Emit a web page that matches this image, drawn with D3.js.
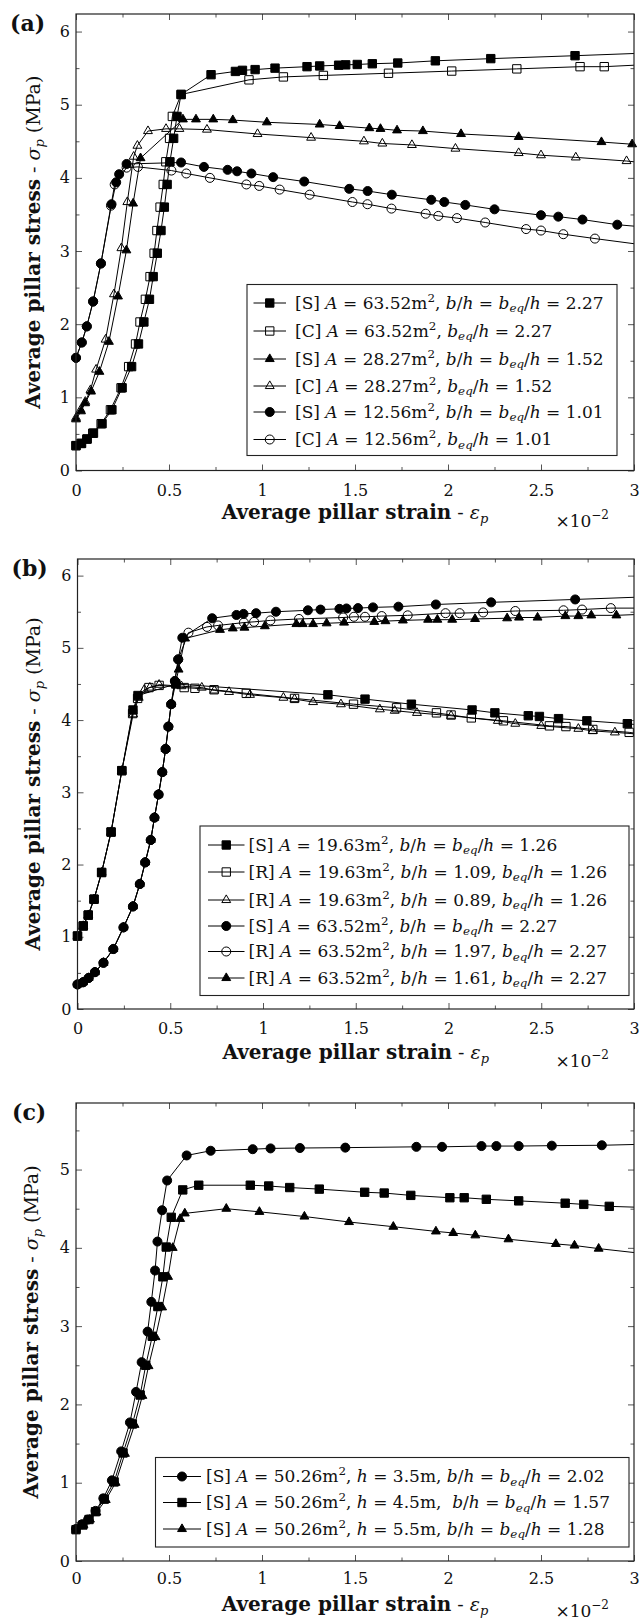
<!DOCTYPE html>
<html>
<head>
<meta charset="utf-8">
<script src="https://cdn.jsdelivr.net/npm/d3@7"></script>
<style>
  html, body { margin: 0; padding: 0; background: #fff; }
  svg { display: block; }
  text { font-family: "DejaVu Serif", serif; white-space: pre; fill: #111; }
</style>
</head>
<body>
<svg id="fig" width="642" height="1620"></svg>
<script>
// ---------- axis ticks ----------
const xMax = 3;
const xTicks = [0, 0.5, 1, 1.5, 2, 2.5, 3];
const xMinor = [0.25, 0.75, 1.25, 1.75, 2.25, 2.75];
const yTicksAB = [0, 1, 2, 3, 4, 5, 6];
const yMinorAB = [0.5, 1.5, 2.5, 3.5, 4.5, 5.5];
const yTicksC = [0, 1, 2, 3, 4, 5];
const yMinorC = [0.5, 1.5, 2.5, 3.5, 4.5, 5.5];
const yMaxA = 6.24, yMaxB = 6.23, yMaxC = 5.85;

// ---------- panel (a): square vs circular pillars ----------
const s63x = [0, 0.03, 0.06, 0.094, 0.14, 0.193, 0.248, 0.299, 0.336, 0.365, 0.395, 0.415, 0.437, 0.457, 0.475, 0.49, 0.505, 0.525, 0.543, 0.565, 0.726, 0.857, 0.895, 0.963, 1.07, 1.242, 1.31, 1.412, 1.45, 1.512, 1.593, 1.73, 1.932, 2.23, 2.683, 3.0];
const s63y = [0.34, 0.37, 0.43, 0.51, 0.64, 0.83, 1.13, 1.42, 1.73, 2.03, 2.34, 2.65, 2.97, 3.28, 3.60, 3.91, 4.22, 4.54, 4.84, 5.14, 5.41, 5.455, 5.47, 5.48, 5.50, 5.52, 5.53, 5.54, 5.545, 5.55, 5.56, 5.57, 5.60, 5.63, 5.67, 5.70];

const c63x = [0, 0.027, 0.058, 0.09, 0.135, 0.185, 0.242, 0.283, 0.32, 0.344, 0.373, 0.398, 0.42, 0.435, 0.452, 0.469, 0.483, 0.503, 0.518, 0.565, 0.93, 1.115, 1.33, 1.68, 2.02, 2.37, 2.71, 2.84, 3.0];
const c63y = [0.34, 0.37, 0.43, 0.51, 0.64, 0.83, 1.13, 1.42, 1.73, 2.03, 2.34, 2.65, 2.97, 3.28, 3.60, 3.91, 4.22, 4.54, 4.84, 5.14, 5.34, 5.38, 5.40, 5.43, 5.46, 5.49, 5.52, 5.52, 5.54];

const s28x = [0, 0.027, 0.049, 0.081, 0.126, 0.177, 0.226, 0.271, 0.307, 0.347, 0.575, 0.645, 0.738, 0.843, 1.026, 1.31, 1.417, 1.577, 1.637, 1.726, 1.865, 2.07, 2.38, 2.825, 2.99];
const s28y = [0.70, 0.81, 0.92, 1.08, 1.35, 1.76, 2.38, 3.01, 3.65, 4.27, 4.80, 4.80, 4.80, 4.79, 4.76, 4.73, 4.71, 4.68, 4.67, 4.65, 4.64, 4.60, 4.56, 4.49, 4.46];

const c28x = [0, 0.025, 0.05, 0.078, 0.108, 0.159, 0.204, 0.244, 0.276, 0.31, 0.33, 0.387, 0.484, 0.556, 0.704, 0.976, 1.264, 1.548, 1.647, 1.806, 2.04, 2.38, 2.5, 2.687, 2.96, 3.0];
const c28y = [0.72, 0.83, 0.94, 1.10, 1.38, 1.79, 2.41, 3.04, 3.67, 4.29, 4.44, 4.64, 4.67, 4.67, 4.66, 4.60, 4.55, 4.50, 4.47, 4.45, 4.40, 4.34, 4.31, 4.28, 4.23, 4.22];

const s12x = [0, 0.031, 0.058, 0.092, 0.134, 0.191, 0.216, 0.232, 0.272, 0.565, 0.688, 0.815, 0.866, 0.943, 1.06, 1.227, 1.469, 1.568, 1.698, 1.91, 1.98, 2.093, 2.25, 2.5, 2.593, 2.723, 2.91, 3.0];
const s12y = [1.54, 1.75, 1.97, 2.31, 2.83, 3.64, 3.94, 4.05, 4.19, 4.21, 4.15, 4.11, 4.09, 4.06, 4.01, 3.95, 3.85, 3.82, 3.77, 3.70, 3.67, 3.63, 3.57, 3.49, 3.47, 3.43, 3.36, 3.34];

const c12x = [0, 0.031, 0.058, 0.092, 0.134, 0.188, 0.208, 0.272, 0.333, 0.513, 0.593, 0.72, 0.916, 0.985, 1.095, 1.256, 1.486, 1.567, 1.696, 1.88, 1.948, 2.048, 2.2, 2.42, 2.5, 2.62, 2.79, 3.0];
const c12y = [1.54, 1.75, 1.97, 2.31, 2.83, 3.62, 3.91, 4.14, 4.15, 4.10, 4.06, 4.00, 3.91, 3.89, 3.84, 3.77, 3.67, 3.64, 3.58, 3.51, 3.48, 3.45, 3.39, 3.30, 3.28, 3.23, 3.17, 3.10];

const legendA = [
  "[S] $A$ = 63.52m^2, $b$/$h$ = $b$_eq/$h$ = 2.27",
  "[C] $A$ = 63.52m^2, $b$_eq/$h$ = 2.27",
  "[S] $A$ = 28.27m^2, $b$/$h$ = $b$_eq/$h$ = 1.52",
  "[C] $A$ = 28.27m^2, $b$_eq/$h$ = 1.52",
  "[S] $A$ = 12.56m^2, $b$/$h$ = $b$_eq/$h$ = 1.01",
  "[C] $A$ = 12.56m^2, $b$_eq/$h$ = 1.01"
];

// ---------- panel (b): square vs rectangular pillars ----------
const s19x = [0, 0.031, 0.058, 0.089, 0.13, 0.181, 0.239, 0.299, 0.326, 0.53, 1.35, 1.55, 1.80, 2.127, 2.25, 2.43, 2.49, 2.593, 2.746, 2.964, 3.0];
const s19y = [1.01, 1.15, 1.30, 1.52, 1.89, 2.45, 3.30, 4.14, 4.34, 4.50, 4.35, 4.29, 4.22, 4.14, 4.10, 4.06, 4.05, 4.02, 3.99, 3.95, 3.94];

const r19ax = [0, 0.031, 0.058, 0.089, 0.13, 0.181, 0.239, 0.297, 0.324, 0.385, 0.44, 0.575, 0.633, 0.736, 0.91, 1.17, 1.488, 1.72, 1.935, 2.014, 2.123, 2.296, 2.544, 2.633, 2.778, 2.974, 3.0];
const r19ay = [1.01, 1.15, 1.30, 1.52, 1.89, 2.45, 3.30, 4.09, 4.30, 4.45, 4.48, 4.45, 4.44, 4.42, 4.37, 4.30, 4.22, 4.17, 4.10, 4.07, 4.03, 3.99, 3.92, 3.91, 3.87, 3.83, 3.82];

const r19bx = [0, 0.031, 0.058, 0.089, 0.13, 0.181, 0.239, 0.30, 0.33, 0.36, 0.39, 0.44, 0.56, 0.67, 0.738, 0.817, 0.93, 1.11, 1.17, 1.27, 1.42, 1.63, 1.71, 1.83, 2.014, 2.266, 2.36, 2.5, 2.70, 2.778, 2.897, 3.0];
const r19by = [1.01, 1.15, 1.30, 1.52, 1.89, 2.45, 3.30, 4.08, 4.31, 4.42, 4.45, 4.49, 4.47, 4.45, 4.41, 4.39, 4.35, 4.31, 4.29, 4.25, 4.22, 4.15, 4.13, 4.10, 4.06, 3.99, 3.95, 3.92, 3.88, 3.85, 3.83, 3.81];

const r63ax = [0, 0.03, 0.06, 0.094, 0.14, 0.193, 0.248, 0.299, 0.336, 0.365, 0.395, 0.415, 0.437, 0.457, 0.475, 0.49, 0.505, 0.525, 0.543, 0.598, 0.698, 0.758, 0.897, 0.952, 1.04, 1.194, 1.432, 1.49, 1.55, 1.64, 1.78, 1.984, 2.06, 2.187, 2.36, 2.62, 2.72, 2.875, 3.0];
const r63ay = [0.34, 0.37, 0.43, 0.51, 0.64, 0.83, 1.13, 1.42, 1.73, 2.03, 2.34, 2.65, 2.97, 3.28, 3.60, 3.91, 4.22, 4.54, 4.84, 5.21, 5.29, 5.31, 5.35, 5.36, 5.38, 5.40, 5.42, 5.43, 5.43, 5.44, 5.45, 5.48, 5.48, 5.49, 5.51, 5.52, 5.53, 5.55, 5.55];

const r63bx = [0, 0.03, 0.06, 0.094, 0.14, 0.193, 0.248, 0.299, 0.336, 0.365, 0.395, 0.415, 0.437, 0.457, 0.475, 0.49, 0.505, 0.545, 0.58, 0.768, 0.837, 0.9, 1.01, 1.18, 1.214, 1.27, 1.343, 1.437, 1.6, 1.66, 1.754, 1.89, 1.94, 2.02, 2.143, 2.316, 2.38, 2.48, 2.63, 2.70, 2.77, 2.905, 3.0];
const r63by = [0.34, 0.37, 0.43, 0.51, 0.64, 0.83, 1.13, 1.42, 1.73, 2.03, 2.34, 2.65, 2.97, 3.28, 3.60, 3.91, 4.22, 4.70, 5.13, 5.25, 5.27, 5.28, 5.30, 5.33, 5.33, 5.33, 5.34, 5.35, 5.36, 5.37, 5.38, 5.39, 5.39, 5.39, 5.40, 5.41, 5.42, 5.42, 5.44, 5.44, 5.45, 5.45, 5.46];

const legendB = [
  "[S] $A$ = 19.63m^2, $b$/$h$ = $b$_eq/$h$ = 1.26",
  "[R] $A$ = 19.63m^2, $b$/$h$ = 1.09, $b$_eq/$h$ = 1.26",
  "[R] $A$ = 19.63m^2, $b$/$h$ = 0.89, $b$_eq/$h$ = 1.26",
  "[S] $A$ = 63.52m^2, $b$/$h$ = $b$_eq/$h$ = 2.27",
  "[R] $A$ = 63.52m^2, $b$/$h$ = 1.97, $b$_eq/$h$ = 2.27",
  "[R] $A$ = 63.52m^2, $b$/$h$ = 1.61, $b$_eq/$h$ = 2.27"
];

// ---------- panel (c): effect of pillar height ----------
const h35x = [0, 0.033, 0.065, 0.105, 0.147, 0.193, 0.243, 0.29, 0.323, 0.353, 0.385, 0.405, 0.425, 0.438, 0.463, 0.49, 0.595, 0.724, 0.95, 1.046, 1.204, 1.448, 1.83, 1.968, 2.18, 2.26, 2.38, 2.558, 2.827, 3.0];
const h35y = [0.41, 0.47, 0.53, 0.64, 0.80, 1.03, 1.40, 1.77, 2.16, 2.54, 2.93, 3.31, 3.71, 4.08, 4.48, 4.86, 5.18, 5.24, 5.26, 5.27, 5.275, 5.28, 5.29, 5.29, 5.30, 5.30, 5.30, 5.305, 5.31, 5.32];

const h45x = [0, 0.037, 0.07, 0.105, 0.152, 0.205, 0.253, 0.303, 0.345, 0.375, 0.41, 0.44, 0.467, 0.485, 0.512, 0.574, 0.66, 0.937, 1.036, 1.149, 1.308, 1.552, 1.657, 1.80, 2.01, 2.087, 2.206, 2.38, 2.63, 2.73, 2.867, 3.0];
const h45y = [0.40, 0.46, 0.53, 0.63, 0.79, 1.01, 1.38, 1.75, 2.12, 2.50, 2.87, 3.25, 3.63, 4.01, 4.39, 4.74, 4.80, 4.80, 4.79, 4.77, 4.75, 4.71, 4.70, 4.67, 4.64, 4.64, 4.62, 4.60, 4.57, 4.555, 4.53, 4.52];

const h55x = [0, 0.04, 0.075, 0.11, 0.16, 0.213, 0.263, 0.315, 0.357, 0.39, 0.428, 0.463, 0.495, 0.52, 0.56, 0.585, 0.808, 0.986, 1.228, 1.468, 1.706, 1.935, 2.028, 2.147, 2.325, 2.58, 2.68, 2.81, 3.0];
const h55y = [0.40, 0.46, 0.53, 0.62, 0.78, 1.00, 1.37, 1.74, 2.11, 2.49, 2.86, 3.24, 3.63, 4.00, 4.37, 4.44, 4.50, 4.46, 4.40, 4.33, 4.27, 4.21, 4.19, 4.16, 4.11, 4.05, 4.03, 3.99, 3.94];

const legendC = [
  "[S] $A$ = 50.26m^2, $h$ = 3.5m, $b$/$h$ = $b$_eq/$h$ = 2.02",
  "[S] $A$ = 50.26m^2, $h$ = 4.5m,  $b$/$h$ = $b$_eq/$h$ = 1.57",
  "[S] $A$ = 50.26m^2, $h$ = 5.5m, $b$/$h$ = $b$_eq/$h$ = 1.28"
];

// ---------- drawing ----------
const svg = d3.select("#fig");
const SQUARE = d3.symbolSquare, CIRCLE = d3.symbolCircle, TRI = d3.symbolTriangle;
const markerArea = new Map([[SQUARE, 70], [CIRCLE, 64], [TRI, 34]]);

// tiny markup: $..$ italic, ^x superscript, _x italic subscript
function parseMarkup(s) {
  const out = []; let buf = "", it = false, i = 0;
  const flush = () => { if (buf) { out.push({ t: buf, it, k: "n" }); buf = ""; } };
  while (i < s.length) {
    const c = s[i];
    if (c === "$") { flush(); it = !it; i++; continue; }
    if (c === "^" || c === "_") {
      flush();
      let j = i + 1, t = "";
      while (j < s.length && /[A-Za-z0-9\u2212]/.test(s[j])) { t += s[j]; j++; }
      out.push({ t, it: c === "_" ? true : it, k: c === "^" ? "sup" : "sub" });
      i = j; continue;
    }
    buf += c; i++;
  }
  flush();
  return out;
}

function richText(textSel, str, size) {
  let shift = 0;
  parseMarkup(str).forEach(p => {
    let target = 0, fs = size;
    if (p.k === "sup") { target = -0.4 * size; fs = 0.7 * size; }
    if (p.k === "sub") { target = 0.22 * size; fs = 0.7 * size; }
    const ts = textSel.append("tspan").text(p.t).attr("font-size", fs);
    if (p.it) ts.attr("font-style", "italic");
    if (target !== shift) { ts.attr("dy", target - shift); shift = target; }
  });
}

function drawMarker(g, shape, filled, cx, cy) {
  g.append("path")
    .attr("d", d3.symbol().type(shape).size(markerArea.get(shape))())
    .attr("transform", `translate(${cx},${cy})`)
    .attr("fill", filled ? "#000" : "none")
    .attr("stroke", "#000")
    .attr("stroke-width", 1);
}

function drawPanel(cfg) {
  const g = svg.append("g");
  const x = d3.scaleLinear().domain([0, xMax]).range([cfg.left, cfg.right]);
  const y = d3.scaleLinear().domain([0, cfg.yMax]).range([cfg.bottom, cfg.top]);

  const clipId = "clip-" + cfg.id;
  svg.append("clipPath").attr("id", clipId).append("rect")
    .attr("x", cfg.left).attr("y", cfg.top)
    .attr("width", cfg.right - cfg.left).attr("height", cfg.bottom - cfg.top);

  // ticks on all four sides, pointing inward
  const axes = g.append("g").attr("class", "axes");
  const put = (axis, tx, ty) => axes.append("g").attr("transform", `translate(${tx},${ty})`).call(axis);
  const fmt = d3.format("~g");
  put(d3.axisBottom(x).tickValues(xTicks).tickSize(-6).tickSizeOuter(0).tickPadding(cfg.xPad).tickFormat(fmt), 0, cfg.bottom);
  put(d3.axisBottom(x).tickValues(xMinor).tickSize(-3.5).tickSizeOuter(0).tickFormat(""), 0, cfg.bottom);
  put(d3.axisTop(x).tickValues(xTicks).tickSize(-6).tickSizeOuter(0).tickFormat(""), 0, cfg.top);
  put(d3.axisTop(x).tickValues(xMinor).tickSize(-3.5).tickSizeOuter(0).tickFormat(""), 0, cfg.top);
  put(d3.axisLeft(y).tickValues(cfg.yTicks).tickSize(-6).tickSizeOuter(0).tickPadding(6).tickFormat(fmt), cfg.left, 0);
  put(d3.axisLeft(y).tickValues(cfg.yMinor).tickSize(-3.5).tickSizeOuter(0).tickFormat(""), cfg.left, 0);
  put(d3.axisRight(y).tickValues(cfg.yTicks).tickSize(-6).tickSizeOuter(0).tickFormat(""), cfg.right, 0);
  put(d3.axisRight(y).tickValues(cfg.yMinor).tickSize(-3.5).tickSizeOuter(0).tickFormat(""), cfg.right, 0);
  axes.selectAll(".domain").remove();
  axes.selectAll("g").attr("font-family", null).attr("font-size", null);
  axes.selectAll(".tick line").attr("stroke", "#555").attr("stroke-width", 1);
  axes.selectAll(".tick text").attr("font-size", 16).attr("fill", "#111");

  // series: line then its markers
  const line = d3.line().x(d => x(d[0])).y(d => y(d[1]));
  cfg.series.forEach(s => {
    const pts = s.x.map((v, i) => [v, s.y[i]]);
    g.append("path").attr("d", line(pts))
      .attr("clip-path", `url(#${clipId})`)
      .attr("fill", "none").attr("stroke", "#000").attr("stroke-width", 1);
    const mg = g.append("g");
    pts.filter(p => p[0] < xMax - 0.005)
      .forEach(p => drawMarker(mg, s.shape, s.filled, x(p[0]), y(p[1])));
  });

  // frame
  g.append("rect")
    .attr("x", cfg.left).attr("y", cfg.top)
    .attr("width", cfg.right - cfg.left).attr("height", cfg.bottom - cfg.top)
    .attr("fill", "none").attr("stroke", "#222").attr("stroke-width", 1.2);

  // legend
  const L = cfg.legend;
  const lg = g.append("g");
  lg.append("rect").attr("x", L.x0).attr("y", L.y0)
    .attr("width", L.x1 - L.x0).attr("height", L.y1 - L.y0)
    .attr("fill", "#fff").attr("stroke", "#222").attr("stroke-width", 1.1);
  cfg.series.forEach((s, i) => {
    const ry = L.rows[i];
    lg.append("line").attr("x1", L.lineX0).attr("x2", L.lineX1)
      .attr("y1", ry).attr("y2", ry).attr("stroke", "#000").attr("stroke-width", 1);
    drawMarker(lg, s.shape, s.filled, (L.lineX0 + L.lineX1) / 2, ry);
    const t = lg.append("text").attr("x", L.textX).attr("y", ry + 5.5);
    richText(t, s.label, 17);
  });

  // panel tag
  g.append("text").attr("x", cfg.tagX).attr("y", cfg.top + 17)
    .attr("font-weight", "bold").attr("font-size", 22).text(cfg.tag);

  // y title
  const yt = g.append("text")
    .attr("transform", `translate(${cfg.yTitleX},${(cfg.top + cfg.bottom) / 2}) rotate(-90)`)
    .attr("text-anchor", "middle");
  yt.append("tspan").attr("font-weight", "bold").attr("font-size", 20).text("Average pillar stress");
  yt.append("tspan").attr("font-size", 19).text(" - ");
  yt.append("tspan").attr("font-size", 19).attr("font-style", "italic").text("σ");
  yt.append("tspan").attr("font-size", 13).attr("font-style", "italic").attr("dy", 4).text("p");
  yt.append("tspan").attr("font-size", 19).attr("dy", -4).text(" (MPa)");

  // x title
  const xt = g.append("text")
    .attr("x", (cfg.left + cfg.right) / 2).attr("y", cfg.bottom + cfg.titleDy)
    .attr("text-anchor", "middle");
  xt.append("tspan").attr("font-weight", "bold").attr("font-size", 20).text("Average pillar strain");
  xt.append("tspan").attr("font-size", 19).text(" - ");
  xt.append("tspan").attr("font-size", 19).attr("font-style", "italic").text("ε");
  xt.append("tspan").attr("font-size", 13).attr("font-style", "italic").attr("dy", 4).text("p");

  // axis multiplier
  const mt = g.append("text").attr("x", cfg.right - 25).attr("y", cfg.bottom + cfg.titleDy + cfg.multDy)
    .attr("text-anchor", "end");
  mt.append("tspan").attr("font-size", 17).text("×10");
  mt.append("tspan").attr("font-size", 12).attr("dy", -8).text("−2");
}

const panels = [
  {
    id: "a", tag: "(a)", tagX: 10, left: 76, right: 634, top: 14, bottom: 470.5,
    yMax: yMaxA, yTicks: yTicksAB, yMinor: yMinorAB, yTitleX: 40, xPad: 14, titleDy: 48, multDy: 8,
    series: [
      { x: s63x, y: s63y, shape: SQUARE, filled: true,  label: legendA[0] },
      { x: c63x, y: c63y, shape: SQUARE, filled: false, label: legendA[1] },
      { x: s28x, y: s28y, shape: TRI,    filled: true,  label: legendA[2] },
      { x: c28x, y: c28y, shape: TRI,    filled: false, label: legendA[3] },
      { x: s12x, y: s12y, shape: CIRCLE, filled: true,  label: legendA[4] },
      { x: c12x, y: c12y, shape: CIRCLE, filled: false, label: legendA[5] }
    ],
    legend: { x0: 247, x1: 617, y0: 284.5, y1: 455.5, lineX0: 253.5, lineX1: 286, textX: 295,
              rows: [303, 331, 359, 386, 412, 439.5] }
  },
  {
    id: "b", tag: "(b)", tagX: 11.5, left: 77.5, right: 634, top: 559, bottom: 1009,
    yMax: yMaxB, yTicks: yTicksAB, yMinor: yMinorAB, yTitleX: 40, xPad: 14, titleDy: 50, multDy: 8,
    series: [
      { x: s19x,  y: s19y,  shape: SQUARE, filled: true,  label: legendB[0] },
      { x: r19ax, y: r19ay, shape: SQUARE, filled: false, label: legendB[1] },
      { x: r19bx, y: r19by, shape: TRI,    filled: false, label: legendB[2] },
      { x: s63x,  y: s63y,  shape: CIRCLE, filled: true,  label: legendB[3] },
      { x: r63ax, y: r63ay, shape: CIRCLE, filled: false, label: legendB[4] },
      { x: r63bx, y: r63by, shape: TRI,    filled: true,  label: legendB[5] }
    ],
    legend: { x0: 200, x1: 629, y0: 826, y1: 995.5, lineX0: 208, lineX1: 244.5, textX: 248.6,
              rows: [845, 872, 900, 926, 951.5, 978] }
  },
  {
    id: "c", tag: "(c)", tagX: 12, left: 76, right: 634, top: 1103, bottom: 1561,
    yMax: yMaxC, yTicks: yTicksC, yMinor: yMinorC, yTitleX: 38, xPad: 12, titleDy: 50, multDy: 6,
    series: [
      { x: h35x, y: h35y, shape: CIRCLE, filled: true, label: legendC[0] },
      { x: h45x, y: h45y, shape: SQUARE, filled: true, label: legendC[1] },
      { x: h55x, y: h55y, shape: TRI,    filled: true, label: legendC[2] }
    ],
    legend: { x0: 155.5, x1: 629, y0: 1457.5, y1: 1547, lineX0: 163, lineX1: 201, textX: 206,
              rows: [1476.5, 1502.5, 1529] }
  }
];

panels.forEach(drawPanel);
</script>
</body>
</html>
